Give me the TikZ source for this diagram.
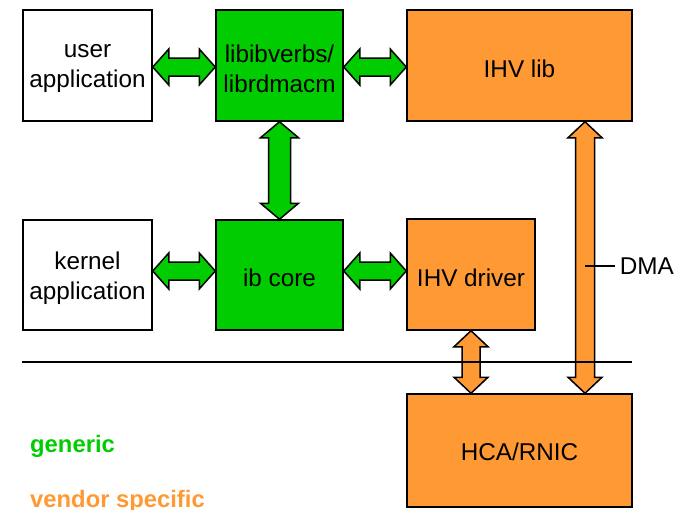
\documentclass[tikz,border=0pt]{standalone}
\usepackage{fontspec}
\setmainfont{Liberation Sans}
\usetikzlibrary{calc}
\definecolor{gengreen}{HTML}{00CC00}
\definecolor{vendorange}{HTML}{FF9933}
\tikzset{
  txt/.style={font=\fontsize{24.3}{30}\selectfont},
  box/.style={draw=black, line width=1.5pt, inner sep=0pt},
  boxtext/.style={label={[txt, align=center, yshift=-3pt]center:#1}},
  whitebox/.style={box, fill=white},
  greenbox/.style={box, fill=gengreen},
  orangebox/.style={box, fill=vendorange},
  arrline/.style={draw=black, line width=1.5pt, line join=miter},
  legend/.style={anchor=base west, inner sep=0pt, font=\fontsize{23.8}{30}\selectfont\bfseries}
}
% double-headed block arrows: #1 start, #2 end, #3 fill,
% #4 head length, #5 head half width, #6 shaft half width
\newcommand\hblock[6]{%
  \filldraw[arrline, fill=#3] let \p1=(#1), \p2=(#2) in
    (\x1,\y1) -- (\x1+#4pt,\y1+#5pt) -- (\x1+#4pt,\y1+#6pt) -- (\x2-#4pt,\y1+#6pt)
    -- (\x2-#4pt,\y1+#5pt) -- (\x2,\y1) -- (\x2-#4pt,\y1-#5pt) -- (\x2-#4pt,\y1-#6pt)
    -- (\x1+#4pt,\y1-#6pt) -- (\x1+#4pt,\y1-#5pt) -- cycle;}
\newcommand\vblock[6]{%
  \filldraw[arrline, fill=#3] let \p1=(#1), \p2=(#2) in
    (\x1,\y1) -- (\x1+#5pt,\y1-#4pt) -- (\x1+#6pt,\y1-#4pt) -- (\x1+#6pt,\y2+#4pt)
    -- (\x1+#5pt,\y2+#4pt) -- (\x1,\y2) -- (\x1-#5pt,\y2+#4pt) -- (\x1-#6pt,\y2+#4pt)
    -- (\x1-#6pt,\y1-#4pt) -- (\x1-#5pt,\y1-#4pt) -- cycle;}
\begin{document}
\begin{tikzpicture}[x=1pt, y=-1pt]
  \useasboundingbox (0,0) rectangle (685,509);

  % user space
  \node[whitebox, minimum width=129pt, minimum height=111pt, boxtext={user\\application}] (uapp) at (87.5,65.5) {};
  \node[greenbox, minimum width=127pt, minimum height=111pt, boxtext={libibverbs/\\librdmacm}] (verbs) at (279.5,65.5) {};
  \node[orangebox, minimum width=225pt, minimum height=111pt, boxtext={IHV lib}] (ihvlib) at (519.5,65.5) {};

  % kernel space
  \node[whitebox, minimum width=129pt, minimum height=110pt, boxtext={kernel\\application}] (kapp) at (87.5,275) {};
  \node[greenbox, minimum width=127pt, minimum height=110pt, boxtext={ib core}] (core) at (279.5,275) {};
  \node[orangebox, minimum width=128pt, minimum height=111pt, boxtext={IHV driver}] (drv) at (471,274.5) {};

  % hardware
  \node[orangebox, minimum width=225pt, minimum height=113pt,
        label={[txt, yshift=-1pt]center:HCA/RNIC}] (hca) at (519.5,450.5) {};

  % connectors
  \coordinate (uaR) at ($(uapp.east)+(0,1.5)$);
  \coordinate (vbL) at ($(verbs.west)+(0,1.5)$);
  \coordinate (vbR) at ($(verbs.east)+(0,1.5)$);
  \coordinate (ilL) at ($(ihvlib.west)+(0,1.5)$);
  \hblock{uaR}{vbL}{gengreen}{16}{18}{9}
  \hblock{vbR}{ilL}{gengreen}{16}{18}{9}
  \vblock{verbs.south}{core.north}{gengreen}{16}{19}{11}

  \coordinate (kaR) at ($(kapp.east)+(0,-4)$);
  \coordinate (coL) at ($(core.west)+(0,-4)$);
  \coordinate (coR) at ($(core.east)+(0,-4)$);
  \coordinate (drL) at ($(drv.west |- coR)$);
  \hblock{kaR}{coL}{gengreen}{16}{18}{9}
  \hblock{coR}{drL}{gengreen}{16}{18}{9}

  \coordinate (dmaTop) at ($(ihvlib.south)+(65.5,0)$);
  \coordinate (dmaBot) at (hca.north -| dmaTop);
  \vblock{dmaTop}{dmaBot}{vendorange}{16}{17}{9.5}

  \coordinate (hcaTop) at (hca.north -| drv.south);
  \vblock{drv.south}{hcaTop}{vendorange}{16}{17}{9}

  % DMA label
  \coordinate (dmaTick) at (585,266);
  \draw[line width=1.5pt] (dmaTick) -- ++(30,0) node[right, inner sep=4pt, txt] (dmalabel) {DMA};

  % user/kernel boundary
  \coordinate (sepL) at (22,362);
  \coordinate (sepR) at (632,362);
  \draw[line width=1.5pt] (sepL) -- (sepR);

  % legend
  \node[legend, text=gengreen] (lgGeneric) at (30,452) {generic};
  \node[legend, text=vendorange] (lgVendor) at (30,507) {vendor specific};
\end{tikzpicture}
\end{document}
